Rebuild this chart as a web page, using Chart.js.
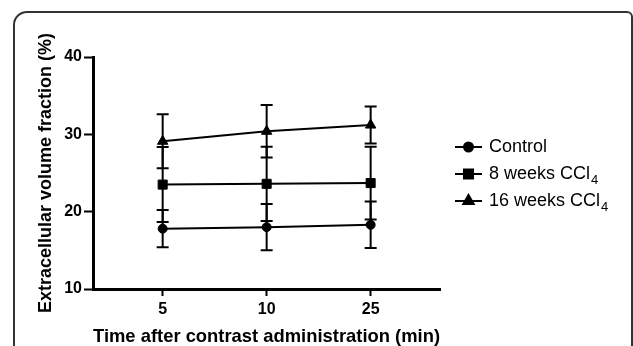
<!DOCTYPE html>
<html>
<head>
<meta charset="utf-8">
<script src="https://cdn.jsdelivr.net/npm/chart.js@4"></script>
<style>
  body { margin: 0; background: #fff; }
  #wrap { position: relative; width: 633px; height: 346px; overflow: hidden; }
  #frame {
    position: absolute; left: 13px; top: 11px; width: 616px; height: 400px;
    border: 2px solid #333; border-radius: 14px 6px 0 0;
  }
  canvas { position: absolute; left: 0; top: 0; }
</style>
</head>
<body>
<div id="wrap">
  <div id="frame"></div>
  <canvas id="myChart" width="633" height="346"></canvas>
</div>
<script>
var categories = ["5", "10", "25"];
var seriesNames = ["Control", "8 weeks CCl", "16 weeks CCl"];
var seriesSubs = ["", "4", "4"];
var controlMean = [17.8, 18.0, 18.3];
var controlSd = [2.4, 3.0, 3.0];
var weeks8Mean = [23.5, 23.6, 23.7];
var weeks8Sd = [4.85, 4.8, 4.7];
var weeks16Mean = [29.1, 30.4, 31.2];
var weeks16Sd = [3.5, 3.4, 2.4];
var yTicks = [10, 20, 30, 40];

var font = "'Liberation Sans', Arial, sans-serif";

function points(arr) {
  return arr.map(function (v, i) { return { x: i + 1, y: v } })
}

var styles = [
  { pointStyle: "circle", pointRadius: 4.5 },
  { pointStyle: "rect", pointRadius: 6.4 },
  { pointStyle: "triangle", pointRadius: 6 }
];
var means = [controlMean, weeks8Mean, weeks16Mean];
var sds = [controlSd, weeks8Sd, weeks16Sd];

var datasets = means.map(function (m, k) {
  return {
    label: seriesNames[k] + seriesSubs[k],
    data: points(m),
    sd: sds[k],
    borderColor: "#000",
    backgroundColor: "#000",
    borderWidth: 2,
    pointStyle: styles[k].pointStyle,
    pointRadius: styles[k].pointRadius,
    pointBorderWidth: 1
  }
});

var errorBars = {
  id: "errorBars",
  beforeDatasetsDraw: function (chart) {
    var ctx = chart.ctx, xs = chart.scales.x, ys = chart.scales.y;
    ctx.save();
    ctx.strokeStyle = "#000";
    ctx.lineWidth = 2;
    chart.data.datasets.forEach(function (ds) {
      ds.data.forEach(function (p, i) {
        var x = xs.getPixelForValue(p.x);
        var top = ys.getPixelForValue(p.y + ds.sd[i]);
        var bot = ys.getPixelForValue(p.y - ds.sd[i]);
        ctx.beginPath();
        ctx.moveTo(x, top); ctx.lineTo(x, bot);
        ctx.moveTo(x - 6, top); ctx.lineTo(x + 6, top);
        ctx.moveTo(x - 6, bot); ctx.lineTo(x + 6, bot);
        ctx.stroke();
      });
    });
    ctx.restore();
  }
};

var legendRows = [147, 174, 201];
var customLegend = {
  id: "customLegend",
  afterDraw: function (chart) {
    var ctx = chart.ctx;
    ctx.save();
    chart.data.datasets.forEach(function (ds, k) {
      var y = legendRows[k];
      ctx.strokeStyle = "#000";
      ctx.lineWidth = 2;
      ctx.beginPath();
      ctx.moveTo(455, y); ctx.lineTo(482, y);
      ctx.stroke();
      ctx.fillStyle = "#000";
      Chart.helpers.drawPoint(ctx, { pointStyle: ds.pointStyle, radius: ds.pointRadius, borderWidth: 1 }, 468.5, y);
      ctx.fill();
      ctx.font = "18px " + font;
      ctx.textBaseline = "middle";
      ctx.textAlign = "left";
      ctx.fillText(seriesNames[k], 489, y);
      if (seriesSubs[k]) {
        var w = ctx.measureText(seriesNames[k]).width;
        ctx.font = "13px " + font;
        ctx.fillText(seriesSubs[k], 489 + w + 1, y + 6);
      }
    });
    ctx.restore();
  }
};

new Chart("myChart", {
  type: "line",
  data: { datasets: datasets },
  plugins: [errorBars, customLegend],
  options: {
    responsive: false,
    animation: false,
    layout: { padding: { top: 57, right: 193, left: 0, bottom: 0 } },
    plugins: { legend: { display: false }, tooltip: { enabled: false } },
    scales: {
      x: {
        type: "linear",
        min: 0.33,
        max: 3.667,
        afterFit: function (s) { s.height = 57 },
        afterBuildTicks: function (s) {
          s.ticks = categories.map(function (c, i) { return { value: i + 1 } })
        },
        grid: { drawOnChartArea: false, tickLength: 7, tickWidth: 2, tickColor: "#000" },
        border: { display: true, width: 3, color: "#000" },
        ticks: {
          color: "#000", padding: 4,
          font: { family: font, size: 16, weight: "bold" },
          callback: function (v) { return categories[v - 1] }
        },
        title: {
          display: true,
          text: "Time after contrast administration (min)",
          color: "#000",
          padding: 0,
          font: { family: font, size: 18.5, weight: "bold", lineHeight: 1 }
        }
      },
      y: {
        min: 10,
        max: 40,
        afterFit: function (s) { s.width = 93 },
        afterBuildTicks: function (s) {
          s.ticks = yTicks.map(function (v) { return { value: v } })
        },
        grid: { drawOnChartArea: false, tickLength: 9, tickWidth: 2, tickColor: "#000" },
        border: { display: true, width: 3, color: "#000" },
        ticks: {
          color: "#000", padding: 2,
          font: { family: font, size: 16, weight: "bold" }
        },
        title: {
          display: true,
          text: "Extracellular volume fraction (%)",
          color: "#000",
          padding: { top: 35, bottom: 0 },
          font: { family: font, size: 18, weight: "bold", lineHeight: 1.2 }
        }
      }
    }
  }
});
</script>
</body>
</html>
